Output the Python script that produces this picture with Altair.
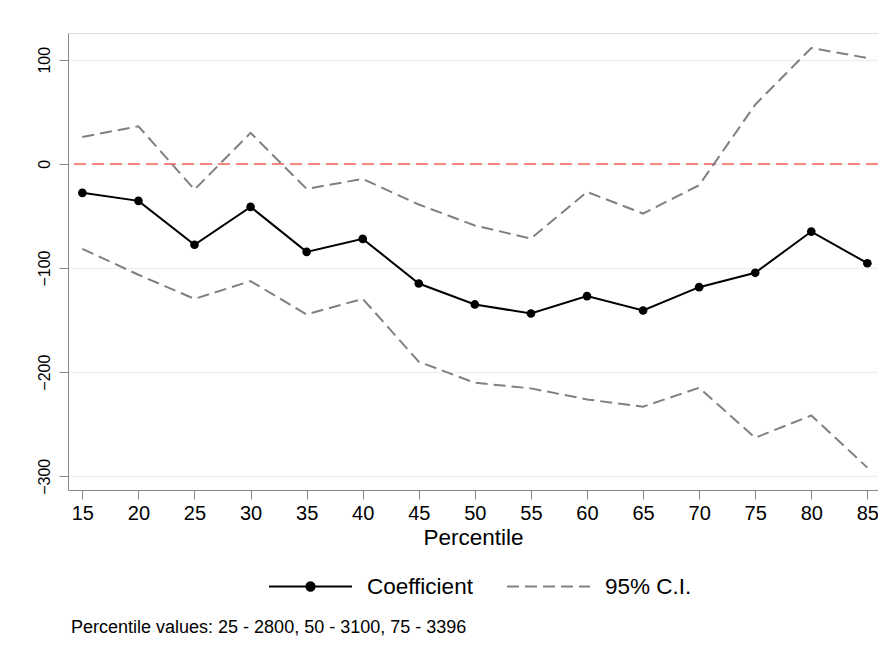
import altair as alt
import pandas as pd

# ---- data ----
percentiles = [15, 20, 25, 30, 35, 40, 45, 50, 55, 60, 65, 70, 75, 80, 85]
coefficient = [-27.8, -35.5, -77.7, -41.3, -84.5, -72.0, -114.9, -135.0,
               -143.7, -127.0, -140.8, -118.4, -104.6, -65.0, -95.4]
ci_upper = [25.9, 36.1, -24.7, 29.8, -24.0, -14.4, -39.0, -59.2,
            -71.7, -26.9, -47.7, -20.5, 56.9, 111.3, 101.7]
ci_lower = [-81.6, -106.5, -129.6, -112.6, -144.6, -129.6, -190.0, -210.2,
            -215.6, -226.2, -233.2, -215.0, -263.0, -241.6, -291.7]
x_ticks = [15, 20, 25, 30, 35, 40, 45, 50, 55, 60, 65, 70, 75, 80, 85]
y_ticks = [-300, -200, -100, 0, 100]
note = "Percentile values: 25 - 2800, 50 - 3100, 75 - 3396"

FONT = "Liberation Sans, Arial, Helvetica, sans-serif"

coef_df = pd.DataFrame({"pct": percentiles, "value": coefficient, "s": "Coefficient"})
ci_df = pd.concat([
    pd.DataFrame({"pct": percentiles, "value": ci_upper, "bound": "upper", "c": "95% C.I."}),
    pd.DataFrame({"pct": percentiles, "value": ci_lower, "bound": "lower", "c": "95% C.I."}),
])

x_enc = alt.X("pct:Q", title="Percentile",
              scale=alt.Scale(domain=[13.72, 85.95], nice=False, zero=False),
              axis=alt.Axis(values=x_ticks, grid=False, labelFontSize=20,
                            titleFontSize=22.5, titleFontWeight="normal",
                            labelPadding=4, titlePadding=3,
                            tickSize=9, labelFlush=False))
y_enc = alt.Y("value:Q", title=None,
              scale=alt.Scale(domain=[-313.2, 125.7], nice=False, zero=False),
              axis=alt.Axis(values=y_ticks, grid=True, gridColor="#eaf2f3",
                            gridWidth=1.5, labelFontSize=16, labelAngle=270,
                            labelPadding=7, tickSize=9))

DOT_PATH = ("M-1,0H1 "
            "M-0.1,0a0.1,0.1 0 1,0 0.2,0a0.1,0.1 0 1,0 -0.2,0 "
            "M-0.065,0a0.065,0.065 0 1,0 0.13,0a0.065,0.065 0 1,0 -0.13,0 "
            "M-0.03,0a0.03,0.03 0 1,0 0.06,0a0.03,0.03 0 1,0 -0.06,0")

zero_line = alt.Chart(pd.DataFrame({"z": [0]})).mark_rule(
    color="#f4857f", strokeWidth=2, strokeDash=[12, 6]
).encode(y=alt.Y("z:Q"))

ci_lines = alt.Chart(ci_df).mark_line(strokeWidth=2).encode(
    x=x_enc, y=y_enc, detail="bound:N",
    color=alt.value("#808080"),
    strokeDash=alt.StrokeDash(
        "c:N",
        scale=alt.Scale(domain=["95% C.I."], range=[[12, 6]]),
        legend=alt.Legend(orient="none", legendX=438, legendY=511, title=None,
                          symbolType="stroke", symbolSize=6889,
                          symbolStrokeColor="#808080", symbolStrokeWidth=2,
                          symbolDash=[12, 6], labelFontSize=22.5,
                          labelFont=FONT, labelOffset=14, labelColor="black"),
    ),
)

coef_line = alt.Chart(coef_df).mark_line(strokeWidth=2).encode(
    x=x_enc, y=y_enc,
    color=alt.Color(
        "s:N",
        scale=alt.Scale(domain=["Coefficient"], range=["black"]),
        legend=alt.Legend(orient="none", legendX=200, legendY=511, title=None,
                          symbolType=DOT_PATH, symbolSize=6889,
                          symbolStrokeColor="black", symbolFillColor="black",
                          symbolStrokeWidth=2, labelFontSize=22.5,
                          labelFont=FONT, labelOffset=14, labelColor="black"),
    ),
)

coef_pts = alt.Chart(coef_df).mark_point(filled=True, size=75, opacity=1).encode(
    x=x_enc, y=y_enc, color=alt.value("black")
)

chart = alt.layer(zero_line, ci_lines, coef_line, coef_pts).properties(
    width=810, height=457,
    padding={"left": 60, "top": 25, "right": 0, "bottom": 165},
    autosize=alt.AutoSizeParams(type="none"),
    title=alt.TitleParams(text=note, orient="bottom", anchor="start",
                          fontSize=18, font=FONT, fontWeight="normal",
                          color="black", offset=21, dx=35),
).configure_view(strokeWidth=0).configure_axis(
    labelFont=FONT, titleFont=FONT, labelColor="black", titleColor="black",
    titleFontWeight="normal", domainColor="black", domainWidth=1.5,
    tickColor="black", tickWidth=1.5
).configure(background="white")

chart.save("out.html", embed_options={"renderer": "svg", "actions": False})
